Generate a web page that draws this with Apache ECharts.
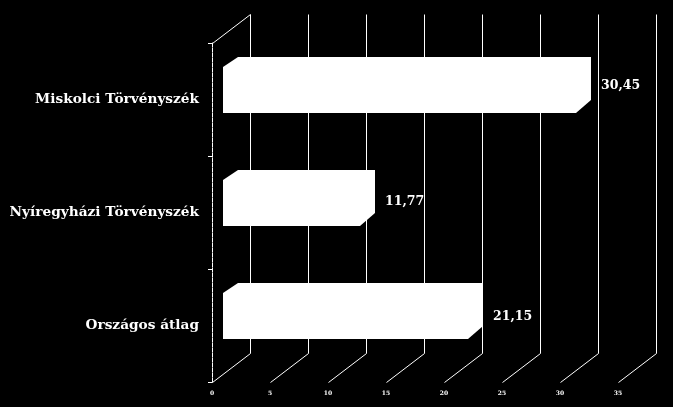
<!DOCTYPE html>
<html><head><meta charset="utf-8">
<style>html,body{margin:0;padding:0;background:#000}#c{width:673px;height:407px}</style>
<script src="https://cdn.jsdelivr.net/npm/echarts@6/dist/echarts.min.js"></script>
</head><body><div id="c"></div>
<script>
const categories = ['Miskolci Törvényszék', 'Nyíregyházi Törvényszék', 'Országos átlag'];
const values = [30.45, 11.77, 21.15];
const labels = ['30,45', '11,77', '21,15'];
const xTicks = [0, 5, 10, 15, 20, 25, 30, 35];

const chart = echarts.init(document.getElementById('c'), null, {renderer: 'canvas'});
const DX = 38, DY = 29, BAR_X = 11;
const snap = n => Math.round(n - 0.5) + 0.5;

function wallItem(params, api) {
  const v = api.value(0);
  const p = api.coord([v, 2]);
  const bandH = api.size([0, 1])[1];
  const x = snap(p[0]), yb = snap(p[1] + bandH / 2);
  const top = snap(yb - 3 * bandH - DY);
  const children = [{
    type: 'polyline',
    shape: {points: [[x - (v === 0 ? 4 : 0), yb], [x, yb], [x + DX, yb - DY], [x + DX, top]]},
    style: {stroke: '#fff', lineWidth: 1, fill: null}
  }];
  if (v === 0) {
    children.push({
      type: 'polyline',
      shape: {points: [[x, yb - 3 * bandH], [x + DX, top]]},
      style: {stroke: '#fff', lineWidth: 1, fill: null}
    });
  }
  return {type: 'group', children};
}

function barItem(params, api) {
  const v = api.value(0), c = api.value(1);
  const org = api.coord([0, c]);
  const end = api.coord([v, c]);
  const xl = Math.round(org[0] + BAR_X), xr = Math.round(end[0] + BAR_X);
  const yBot = Math.round(org[1] + 13.5), yTop = yBot - 56;
  const pts = [[xl, yBot], [xl, yTop + 10], [xl + 15, yTop], [xr + 15, yTop], [xr + 15, yBot - 13], [xr, yBot]];
  return {type: 'group', children: [
    {type: 'polygon', shape: {points: pts}, style: {fill: '#fff', stroke: null}},
    {type: 'text', style: {
      x: xr + 25, y: org[1] - 13.5 + 2.5 * c, text: labels[params.dataIndex],
      fill: '#fff', font: 'bold 12.5px "DejaVu Serif"', textAlign: 'left', textVerticalAlign: 'middle'
    }}
  ]};
}

chart.setOption({
  animation: false,
  backgroundColor: '#000',
  grid: {left: 212, top: 43, width: 406, height: 339},
  xAxis: {
    type: 'value', min: 0, max: 35, interval: 5,
    axisLine: {show: false}, axisTick: {show: false}, splitLine: {show: false},
    axisLabel: {color: '#fff', fontSize: 6, margin: 8, fontFamily: '"DejaVu Serif"', fontWeight: 'bold'}
  },
  yAxis: {
    type: 'category', data: categories, inverse: true,
    axisLine: {show: true, lineStyle: {color: '#fff', width: 1, type: [4, 1]}},
    axisTick: {show: true, length: 4, lineStyle: {color: '#fff'}},
    splitLine: {show: false},
    axisLabel: {color: '#fff', margin: 13, fontSize: 13.7, fontWeight: 'bold', fontFamily: '"DejaVu Serif"', align: 'right'}
  },
  series: [
    {type: 'custom', coordinateSystem: 'cartesian2d', clip: false, z: 1,
     data: xTicks.map(t => [t]), encode: {x: 0}, renderItem: wallItem, silent: true},
    {type: 'custom', coordinateSystem: 'cartesian2d', clip: false, z: 3,
     data: values.map((v, i) => [v, i]), encode: {x: 0, y: 1}, renderItem: barItem, silent: true}
  ]
});
</script></body></html>
